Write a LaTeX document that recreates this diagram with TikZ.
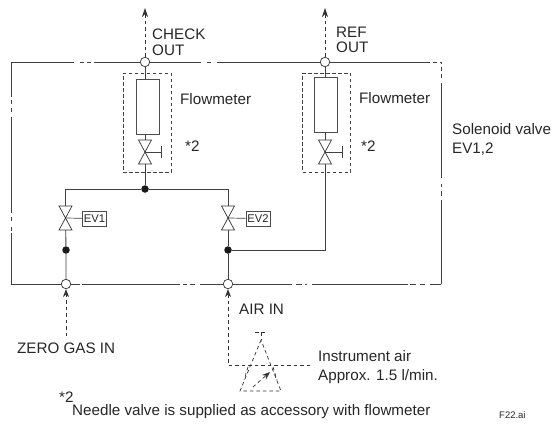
\documentclass[tikz,border=0pt]{standalone}
\usepackage{fontspec}
\setmainfont{Liberation Sans}
\usetikzlibrary{arrows.meta, positioning, calc}

\begin{document}
\begin{tikzpicture}[x=1pt, y=-1pt,
    % Pipe style - solid grey line
    pipe/.style={draw=black!75, line width=0.9pt},
    % Gas line outside the panel
    gasline/.style={draw=black!80, line width=0.7pt, dash pattern=on 3.5pt off 3pt},
    % Dashed box around flowmeter and needle valve
    fmbox/.style={rectangle, draw=black!75, line width=0.7pt, dash pattern=on 3.5pt off 2.5pt,
        minimum width=48pt, minimum height=99pt, inner sep=0pt},
    % Flowmeter tube
    fmtube/.style={rectangle, draw=black!70, line width=0.9pt, fill=white, minimum width=23pt,
        minimum height=55pt, inner sep=0pt},
    % Port on the frame
    port/.style={circle, draw=black!80, line width=0.7pt, fill=white, minimum size=9.5pt, inner sep=0pt},
    % Joint on a pipe
    joint/.style={circle, fill=black!90, minimum size=7.5pt, inner sep=0pt},
    % EV tag
    evtag/.style={rectangle, draw=black!70, line width=0.7pt, font=\fontsize{11.2}{12}\selectfont,
        text=black!85, minimum width=24pt, minimum height=15pt, inner sep=0pt},
    % Text label
    lbl/.style={font=\fontsize{15.2}{15.5}\selectfont, text=black!85, align=left, anchor=west, inner sep=0pt},
    % Valve body, two triangles meeting at the centre
    valve/.pic={
        \draw[draw=black!80, line width=0.7pt, fill=white] (-6.5,-12) -- (6.5,-12) -- (-6.5,12) -- (6.5,12) -- cycle;
    }
]
    \useasboundingbox (0,0) rectangle (559,423);

    % Frame corners and ports
    \coordinate (cornertl) at (11,62);
    \coordinate (cornertr) at (441,62);
    \coordinate (cornerbr) at (441,284);
    \coordinate (cornerbl) at (11,284);
    \node[port] (checkport) at (145,62) {};
    \node[port] (refport) at (325,62) {};
    \node[port] (zeroport) at (66,284) {};
    \node[port] (airport) at (228,284) {};

    % Frame with its break marks
    \draw[pipe, dash pattern=on 63pt off 6pt on 4pt off 3pt on 4pt off 3pt on 60pt] (cornertl) -- (checkport);
    \draw[pipe, dash pattern=on 51pt off 6pt on 4pt off 6pt on 120pt] (checkport) -- (refport);
    \draw[pipe, dash pattern=on 100pt off 3pt on 4pt off 3pt on 6pt] (refport) -- (cornertr);
    \draw[pipe, dash pattern=on 2pt off 3pt on 4pt off 3pt on 4pt off 5pt on 95pt off 6pt on 3pt off 4pt on 5pt off 4pt on 90pt] (cornertr) -- (cornerbr);
    \draw[pipe, dash pattern=on 11pt off 5pt on 5pt off 4pt on 6pt off 2pt on 96pt off 5pt on 2pt off 3pt on 6pt off 4pt on 70pt] (cornerbr) -- (airport);
    \draw[pipe, dash pattern=on 9pt off 2pt on 98pt off 3pt on 4pt off 3pt on 5pt off 5pt on 40pt] (zeroport) -- (airport);
    \draw[pipe] (cornerbl) -- (zeroport);
    \draw[pipe, dash pattern=on 35pt off 3pt on 4pt off 4pt on 4pt off 5pt on 96pt off 4pt on 4pt off 6pt on 4pt off 2pt on 60pt] (cornertl) -- (cornerbl);

    % Flowmeter groups
    \node[fmbox] (checkbox) at (147,122.5) {};
    \node[fmbox] (refbox) at (326.5,122.5) {};
    \node[fmtube] (checktube) at (147.5,106.5) {};
    \node[fmtube] (reftube) at (326,105) {};

    % Valve positions
    \coordinate (checkneedle) at (145,152);
    \coordinate (refneedle) at (325,152);
    \coordinate (evone) at (65.5,218);
    \coordinate (evtwo) at (228,218);
    \node[joint] (topjoint) at (145,189) {};
    \node[joint] (zerojoint) at (66,250) {};
    \node[joint] (airjoint) at (228,250) {};
    \coordinate (refbend) at (325,250);

    % Pipes
    \draw[pipe] (checkport) -- (checktube.north -| checkport);
    \draw[pipe] (refport) -- (reftube.north -| refport);
    \draw[pipe] (checktube.south -| checkport) -- (checkneedle);
    \draw[pipe] (reftube.south -| refport) -- (refneedle);
    \draw[pipe] (checkneedle) -- (topjoint);
    \draw[pipe] (refneedle) -- (refbend) -- (airjoint);
    \draw[pipe] (evone) |- (topjoint);
    \draw[pipe] (evtwo) |- (topjoint);
    \draw[pipe] (evone) -- (zerojoint) -- (zeroport);
    \draw[pipe] (evtwo) -- (airjoint) -- (airport);

    % Valves on top of the pipes
    \pic at (checkneedle) {valve};
    \pic at (refneedle) {valve};
    \pic at (evone) {valve};
    \pic at (evtwo) {valve};

    % Needle valve handles
    \draw[pipe, line width=0.7pt] (checkneedle) -- ++(16,0) coordinate (checkhandle);
    \draw[pipe, line width=0.7pt] ([yshift=-6pt]checkhandle) -- ([yshift=6pt]checkhandle);
    \draw[pipe, line width=0.7pt] (refneedle) -- ++(17,0) coordinate (refhandle);
    \draw[pipe, line width=0.7pt] ([yshift=-6pt]refhandle) -- ([yshift=6pt]refhandle);

    % Solenoid tags
    \node[evtag] (evonetag) at (94.5,218.5) {EV1};
    \node[evtag] (evtwotag) at (258,218.5) {EV2};
    \draw[pipe, line width=0.7pt] (evone) -- (evonetag);
    \draw[pipe, line width=0.7pt] (evtwo) -- (evtwotag);

    % Gas lines
    \coordinate (checkend) at (145,8);
    \coordinate (refend) at (325,8);
    \coordinate (zerostart) at (66,336);
    \coordinate (airbend) at (228,365);
    \coordinate (airend) at (310,365);
    \draw[gasline, -{Stealth[length=9pt, width=6pt]}] (checkport) -- (checkend);
    \draw[gasline, -{Stealth[length=9pt, width=6pt]}] (refport) -- (refend);
    \draw[gasline, -{Stealth[length=8pt, width=6pt]}] (zerostart) -- (zeroport);
    \draw[gasline, -{Stealth[length=8pt, width=6pt]}] (airend) -- (airbend) -- (airport);

    % Pressure regulator symbol
    \coordinate (regtop) at (261,340);
    \coordinate (regleft) at (240,391);
    \coordinate (regright) at (281,391);
    \draw[gasline] (regtop) -- (regleft) -- (regright) -- cycle;
    \draw[gasline] (255,332) -- (268,332);
    \draw[gasline] (261,332) -- (regtop);
    \draw[gasline] (248,367) -- (244,380);
    \draw[gasline] (273,367) -- (277,380);
    \draw[gasline, -{Stealth[length=8pt, width=6pt]}] (253,387) -- (270,372);

    % Labels
    \node[lbl] (checklbl) at (152,42.5) {CHECK\\OUT};
    \node[lbl] (reflbl) at (336,40) {REF\\OUT};
    \node[lbl] (fmcheck) at (180,99) {Flowmeter};
    \node[lbl] (fmref) at (359,98) {Flowmeter};
    \node[lbl] (starcheck) at (185,146) {*2};
    \node[lbl] (starref) at (361,146) {*2};
    \node[lbl] (evlbl) at (452,139.5) {Solenoid valve\\[3.5pt]EV1,2};
    \node[lbl] (zerolbl) at (17,348) {ZERO GAS IN};
    \node[lbl] (airlbl) at (239,309) {AIR IN};
    \node[lbl] (instrlbl) at (318,367.5) {Instrument air\\[3.5pt]Approx. 1.5 l/min.};
    \node[lbl] (starnote) at (59,397) {*2};
    \node[lbl] (notelbl) at (72,412) {Needle valve is supplied as accessory with flowmeter};
    \node[lbl, font=\fontsize{9.5}{10}\selectfont] (figlbl) at (499,415) {F22.ai};
\end{tikzpicture}
\end{document}
